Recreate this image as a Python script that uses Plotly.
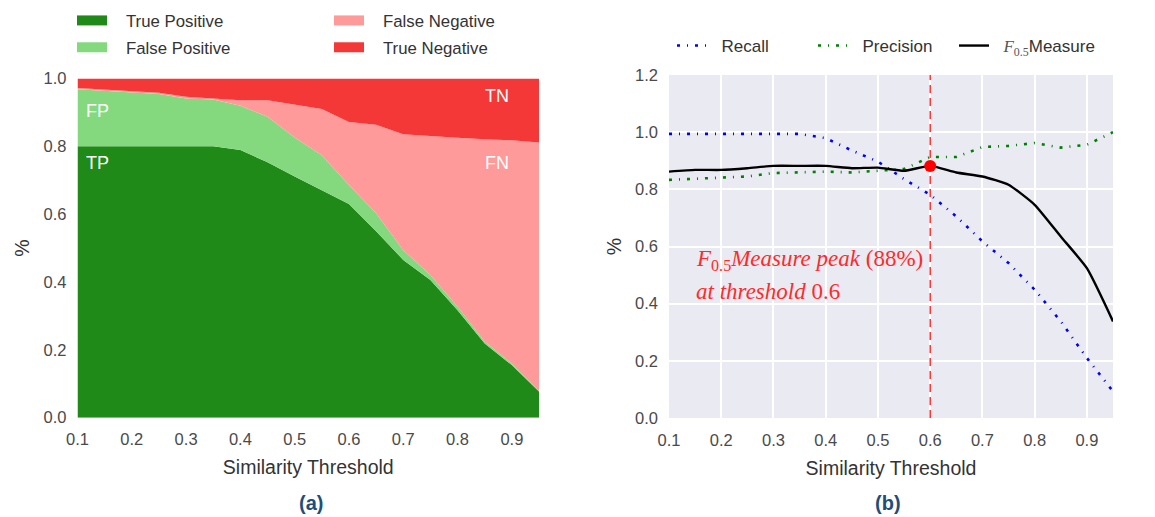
import plotly.graph_objects as go

# ---------------- data ----------------
thresholds = [0.10, 0.15, 0.20, 0.25, 0.30, 0.35, 0.40, 0.45, 0.50,
              0.55, 0.60, 0.65, 0.70, 0.75, 0.80, 0.85, 0.90, 0.95]

true_positive = [0.800, 0.800, 0.800, 0.800, 0.800, 0.800, 0.789, 0.753, 0.711,
                 0.671, 0.630, 0.550, 0.465, 0.406, 0.317, 0.219, 0.155, 0.077]
false_positive = [0.168, 0.163, 0.159, 0.154, 0.141, 0.138, 0.131, 0.134, 0.115,
                  0.103, 0.056, 0.053, 0.029, 0.015, 0.010, 0.006, 0.005, 0.002]
false_negative = [0.004, 0.005, 0.004, 0.004, 0.005, 0.003, 0.016, 0.049, 0.096,
                  0.136, 0.186, 0.261, 0.342, 0.409, 0.498, 0.596, 0.658, 0.732]
true_negative = [0.028, 0.032, 0.037, 0.042, 0.054, 0.059, 0.064, 0.064, 0.078,
                 0.090, 0.128, 0.136, 0.164, 0.170, 0.175, 0.179, 0.182, 0.189]

recall = [0.994, 0.994, 0.994, 0.994, 0.994, 0.994, 0.979, 0.936, 0.897,
          0.836, 0.781, 0.705, 0.618, 0.542, 0.449, 0.338, 0.210, 0.093]
precision = [0.833, 0.837, 0.839, 0.845, 0.857, 0.859, 0.862, 0.859, 0.866,
             0.871, 0.913, 0.913, 0.948, 0.952, 0.962, 0.946, 0.956, 1.000]
f05_measure = [0.862, 0.868, 0.868, 0.874, 0.882, 0.882, 0.882, 0.874, 0.876,
               0.865, 0.882, 0.859, 0.845, 0.816, 0.746, 0.635, 0.524, 0.338]

peak_threshold = 0.6
peak_value = 0.882

x_ticks = [0.1, 0.2, 0.3, 0.4, 0.5, 0.6, 0.7, 0.8, 0.9]
y_ticks_a = [0.0, 0.2, 0.4, 0.6, 0.8, 1.0]
y_ticks_b = [0.0, 0.2, 0.4, 0.6, 0.8, 1.0, 1.2]

# ---------------- figure ----------------
W, H = 1155, 517
def px(x):
    return x / W
def py(y):
    return 1 - y / H

fig = go.Figure()

area_series = [
    ("True Positive", true_positive, "#1f8a17", "legend", "g1"),
    ("False Positive", false_positive, "#84d97f", "legend", "g2"),
    ("False Negative", false_negative, "#ff9a9a", "legend3", "g3"),
    ("True Negative", true_negative, "#f43838", "legend3", "g4"),
]
for name, vals, col, lg, grp in area_series:
    fig.add_trace(go.Scatter(
        x=thresholds, y=vals, name=name, mode="lines",
        stackgroup="one", line=dict(width=0, color=col), fillcolor=col,
        xaxis="x", yaxis="y", showlegend=False, hoverinfo="skip"))
# legend swatches (no data, legend only)
for name, vals, col, lg, grp in area_series:
    fig.add_trace(go.Scatter(
        x=[None], y=[None], name="&nbsp;&nbsp;&nbsp;" + name, mode="lines",
        line=dict(width=13, color=col), xaxis="x", yaxis="y",
        legend=lg, legendgroup=grp, showlegend=True))

dash_pat = "3px,7px,1px,7px"
fig.add_trace(go.Scatter(x=thresholds, y=recall, name="&nbsp;&nbsp;Recall", mode="lines",
                         line=dict(color="#0000ff", width=2.6, dash=dash_pat),
                         xaxis="x2", yaxis="y2", legend="legend2"))
fig.add_trace(go.Scatter(x=thresholds, y=precision, name="&nbsp;&nbsp;Precision", mode="lines",
                         line=dict(color="#007f00", width=2.6, dash=dash_pat),
                         xaxis="x2", yaxis="y2", legend="legend2"))
fig.add_trace(go.Scatter(x=thresholds, y=f05_measure,
                         name="&nbsp;&nbsp;<span style='font-family:Liberation Serif;color:#555555'><i>F</i><sub>0.5</sub></span>Measure",
                         mode="lines", line=dict(color="black", width=2.4, shape="spline", smoothing=0.5),
                         xaxis="x2", yaxis="y2", legend="legend2"))
fig.add_trace(go.Scatter(x=[peak_threshold], y=[peak_value], mode="markers",
                         marker=dict(color="#ff0000", size=12), showlegend=False,
                         xaxis="x2", yaxis="y2"))

tick_font = dict(family="Liberation Sans, Arial", size=16.5, color="#4a4a4a")
title_font = dict(family="Liberation Sans, Arial", size=19.5, color="#333333")
legend_font = dict(family="Liberation Sans, Arial", size=16.8, color="#333333")

common_axis = dict(zeroline=False, tickfont=tick_font, ticks="", automargin=False)

fig.update_layout(
    width=W, height=H,
    margin=dict(l=0, r=0, t=0, b=0, autoexpand=False),
    paper_bgcolor="white", plot_bgcolor="white",
    font=dict(family="Liberation Sans, Arial", color="#333333"),
    xaxis=dict(domain=[px(77.5), px(539)], range=[0.1, 0.95], tickvals=x_ticks,
               ticktext=[f"{v:.1f}" for v in x_ticks], showgrid=False,
               ticklabelstandoff=10,
               title=dict(text="Similarity Threshold", font=title_font, standoff=13),
               anchor="y", **common_axis),
    yaxis=dict(domain=[py(417.7), py(78.5)], range=[0, 1.0], tickvals=y_ticks_a,
               ticktext=[f"{v:.1f}" for v in y_ticks_a], showgrid=False,
               ticklabelstandoff=10,
               title=dict(text="%", font=title_font, standoff=8),
               anchor="x", **common_axis),
    xaxis2=dict(domain=[px(669), px(1113)], range=[0.1, 0.95], tickvals=x_ticks,
                ticktext=[f"{v:.1f}" for v in x_ticks], showgrid=True, gridcolor="white",
                gridwidth=2, ticklabelstandoff=10,
                title=dict(text="Similarity Threshold", font=title_font, standoff=13),
                anchor="y2", **common_axis),
    yaxis2=dict(domain=[py(418), py(75)], range=[0, 1.2], tickvals=y_ticks_b,
                ticktext=[f"{v:.1f}" for v in y_ticks_b], showgrid=True, gridcolor="white",
                gridwidth=2, ticklabelstandoff=10,
                title=dict(text="%", font=title_font, standoff=8),
                anchor="x2", **common_axis),
    legend=dict(x=px(72), y=py(3), xanchor="left", yanchor="top", orientation="v",
                font=legend_font, bgcolor="rgba(0,0,0,0)", tracegroupgap=2,
                traceorder="grouped", itemwidth=30),
    legend3=dict(x=px(329), y=py(3), xanchor="left", yanchor="top", orientation="v",
                 font=legend_font, bgcolor="rgba(0,0,0,0)", tracegroupgap=2,
                 traceorder="grouped", itemwidth=30),
    legend2=dict(x=px(672), y=py(46), xanchor="left", yanchor="middle", orientation="h",
                 font=dict(family="Liberation Sans, Arial", size=17, color="#333333"),
                 bgcolor="rgba(0,0,0,0)", traceorder="normal", itemwidth=30,
                 entrywidth=96, entrywidthmode="pixels"),
    showlegend=True,
)

# grey background for panel (b)
fig.add_shape(type="rect", xref="x2 domain", yref="y2 domain", x0=0, x1=1, y0=0, y1=1,
              fillcolor="#eaeaf2", line=dict(width=0), layer="below")
# vertical dashed line at the peak threshold
fig.add_shape(type="line", xref="x2", yref="y2 domain", x0=peak_threshold, x1=peak_threshold,
              y0=0, y1=1, line=dict(color="#ff0000", width=1.2, dash="8px,5px"), layer="above")

# in-chart labels for panel (a)
for txt, xv, yv in [("FP", 0.137, 0.905), ("TP", 0.137, 0.75), ("TN", 0.873, 0.948), ("FN", 0.873, 0.75)]:
    fig.add_annotation(x=xv, y=yv, xref="x", yref="y", text=txt, showarrow=False,
                       font=dict(size=18, color="white", family="Liberation Sans, Arial"))

serif = "Liberation Serif, DejaVu Serif, serif"
fig.add_annotation(x=0.148, y=0.553, xref="x2", yref="y2", xanchor="left",
                   text="<i>F</i><sub>0.5</sub><i>Measure peak</i> (88%)", showarrow=False,
                   font=dict(size=23, color="#ff2a2a", family=serif))
fig.add_annotation(x=0.148, y=0.441, xref="x2", yref="y2", xanchor="left",
                   text="<i>at threshold</i> 0.6", showarrow=False,
                   font=dict(size=23, color="#ff2a2a", family=serif))

# captions
fig.add_annotation(x=px(297), y=py(503), xref="paper", yref="paper", yanchor="middle",
                   text="<b>(a)</b>", showarrow=False, font=dict(size=20, color="#1f4e79"))
fig.add_annotation(x=px(903), y=py(503), xref="paper", yref="paper", yanchor="middle",
                   text="<b>(b)</b>", showarrow=False, font=dict(size=20, color="#1f4e79"))

fig.write_html("out.html")
